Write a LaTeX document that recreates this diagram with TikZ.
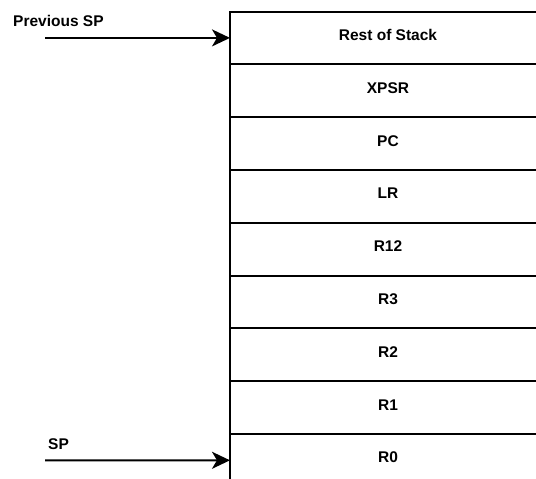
\documentclass[tikz,border=0pt]{standalone}
\usepackage{fontspec}
\setmainfont{Liberation Sans}
\usetikzlibrary{arrows.meta}

\tikzset{
  stackrow/.style={draw=black, line width=2pt, minimum width=316pt,
    minimum height=52.8pt, inner sep=0pt, outer sep=0pt},
  rowtext/.style={anchor=base, inner sep=0pt, font=\bfseries\fontsize{15.5pt}{18pt}\selectfont},
  sidelabel/.style={anchor=base west, inner sep=0pt, font=\bfseries\fontsize{15.5pt}{18pt}\selectfont},
  pointer/.style={line width=2pt, -{Stealth[length=18pt, width=17pt, inset=5pt]}}
}

\begin{document}
\begin{tikzpicture}[x=1pt, y=-1pt]
  \useasboundingbox (0,0) rectangle (536,479);
  \clip (0,0) rectangle (536,479);

  % stack frame, one row per saved word
  \foreach \name/\txt [count=\i from 0] in
      {rest/Rest of Stack, xpsr/XPSR, pc/PC, lr/LR, rtwelve/R12,
       rthree/R3, rtwo/R2, rone/R1, rzero/R0} {
    \node[stackrow] (\name) at (388, 37.9 + 52.8*\i) {};
    \node[rowtext, yshift=-2.5pt] (\name-t) at (\name.center) {\txt};
  }

  % stack pointers
  \coordinate (prevstart) at (45, 37.9);
  \coordinate (spstart) at (45, 460.3);
  \node[sidelabel] (prevlbl) at (13, 27) {Previous SP};
  \node[sidelabel] (splbl) at (48, 449) {SP};

  \draw[pointer] (prevstart) -- (rest.west);
  \draw[pointer] (spstart) -- (rzero.west);
\end{tikzpicture}
\end{document}
